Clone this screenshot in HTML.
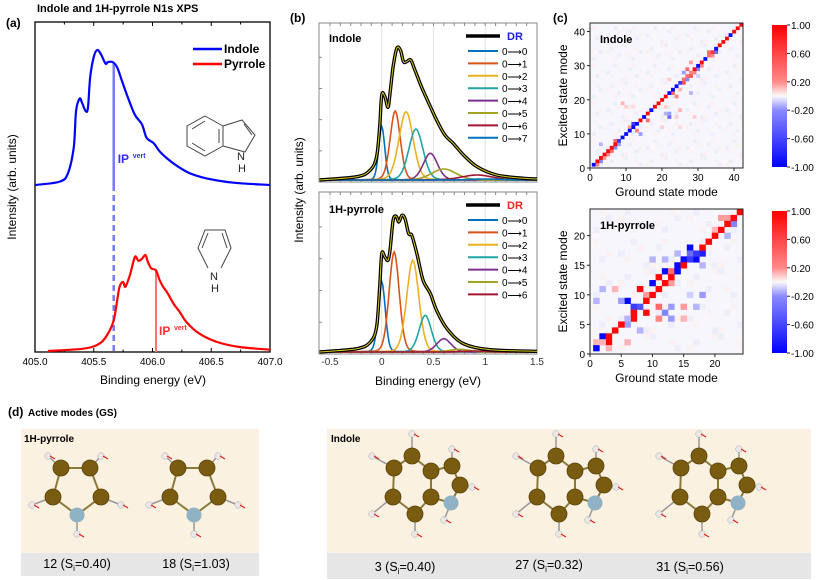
<!DOCTYPE html>
<html><head><meta charset="utf-8"><style>
body{margin:0;background:#fff;}
svg{display:block;font-family:"Liberation Sans",Arial,sans-serif;}
</style></head><body>
<svg id="fig" width="830" height="580" viewBox="0 0 830 580" xmlns="http://www.w3.org/2000/svg"></svg>
<script>
// ---------- DATA ----------
const indoleE=[405.00,405.21,405.28,405.33,405.35,405.38,405.40,405.43,405.45,405.47,405.50,405.53,405.56,405.60,405.62,405.66,405.70,405.74,405.79,405.85,405.91,405.95,406.01,406.06,406.12,406.21,406.32,406.46,406.69,407.0];
const indoleI=[0,0.025,0.086,0.28,0.55,0.64,0.61,0.55,0.57,0.80,0.95,1.0,0.97,0.90,0.91,0.91,0.87,0.77,0.65,0.52,0.45,0.35,0.31,0.25,0.20,0.14,0.086,0.049,0.017,0];
const pyrroleE=[405.11,405.41,405.55,405.62,405.67,405.70,405.72,405.75,405.77,405.81,405.85,405.88,405.91,405.94,405.96,405.99,406.03,406.06,406.09,406.13,406.18,406.23,406.29,406.40,406.55,406.74,407.0];
const pyrroleI=[0,0.024,0.077,0.18,0.32,0.53,0.67,0.72,0.67,0.80,0.98,0.94,0.96,1.0,0.93,0.86,0.84,0.74,0.67,0.60,0.49,0.41,0.30,0.18,0.094,0.042,0.014];
const ipIndole=405.67, ipPyrrole=406.03;
const aTicks=[405.0,405.5,406.0,406.5,407.0];
const drIndoleE=[-0.60,-0.24,-0.11,-0.05,-0.02,0.00,0.03,0.06,0.08,0.11,0.145,0.18,0.21,0.24,0.28,0.32,0.39,0.47,0.53,0.61,0.69,0.79,0.92,1.11,1.37,1.5];
const drIndoleI=[0,10,30,70,160,255,250,218,260,340,395,390,355,355,360,330,275,220,180,135,110,75,40,15,5,3];
const drPyrE=[-0.60,-0.24,-0.11,-0.05,-0.02,0.00,0.03,0.06,0.08,0.11,0.14,0.165,0.195,0.225,0.26,0.29,0.34,0.40,0.47,0.53,0.63,0.79,1.05,1.5];
const drPyrI=[0,10,30,75,195,295,285,275,305,395,407,390,410,400,355,350,295,215,175,125,70,25,7,2];
const compIndolePos=[0.0,0.13,0.235,0.33,0.47,0.60,0.92,1.0];
const compIndoleH=[160,207,205,153,80,33,15,3];
const compIndoleW=[0.03,0.05,0.07,0.07,0.07,0.12,0.15,0.15];
const compPyrPos=[0.0,0.12,0.30,0.42,0.60,0.75,0.9];
const compPyrH=[210,300,275,110,40,8,3];
const compPyrW=[0.035,0.05,0.06,0.06,0.07,0.1,0.12];
const compColors=["#0072BD","#D95319","#EDB120","#1FA5A5","#7E2F8E","#A3A322","#A2142F","#0072BD"];
const bTicks=[-0.5,0,0.5,1,1.5];
const indoleDiag=[-1,1,1,1,1,1,1,-0.8,-1,-1,-1,-1,-1,1,-1,1,-1,1,1,1,1,-1,-1,-1,-0.8,0.6,0.6,0.5,1,-1,1,-1,0.6,0.8,-1,1,1,1,-1,1,1,1];
const indoleOff=[[2,1,0.5],[3,2,-0.5],[4,3,0.4],[5,4,0.5],[6,5,0.6],[7,6,-0.5],[8,7,-0.4],[7,8,0.6],[12,13,-0.8],[11,12,0.4],[13,11,0.5],[14,10,-0.4],[16,14,0.6],[15,15,-0.4],[22,15,-0.6],[22,16,-0.4],[23,22,0.6],[24,21,0.5],[25,23,0.3],[26,25,0.7],[27,26,-0.5],[28,27,0.7],[29,28,0.5],[30,29,-0.5],[31,30,0.5],[27,29,0.6],[28,31,0.4],[33,34,0.6],[34,33,0.5],[35,34,-0.6],[21,16,-0.3],[25,17,0.3],[9,19,0.3],[28,22,-0.3],[3,7,-0.3],[26,28,-0.4],[21,18,0.2],[24,15,0.2],[29,15,0.2],[20,12,0.2],[25,12,0.15],[10,18,0.2],[12,18,0.15],[22,26,0.2],[30,27,-0.2]];
const pyrDiag=[-1,0.3,1,1,1,-0.3,1,-0.7,1,1,1,1,1,-1,1,-0.8,-0.8,1,1,1,1,1,1,1];
const pyrOff=[[1,2,0.3],[2,3,-1],[3,2,1],[3,1,0.3],[6,5,-0.4],[7,6,1],[6,9,-1],[5,9,-0.4],[7,8,-0.8],[9,7,1],[8,11,1],[9,10,0.4],[10,12,-1],[11,13,1],[12,14,-1],[13,14,0.6],[14,15,-1],[15,16,-1],[16,18,-1],[17,16,-1],[18,17,-0.9],[16,17,-0.6],[11,8,0.6],[11,6,0.5],[12,7,-0.5],[13,8,-0.4],[13,6,-0.4],[15,8,0.4],[15,6,0.3],[17,8,-0.3],[4,11,0.3],[2,11,-0.3],[1,9,-0.3],[6,2,0.3],[8,4,-0.3],[13,12,0.4],[10,16,-0.3],[12,16,-0.3],[14,17,-0.3],[18,15,-0.3],[18,10,-0.4],[16,10,-0.2],[22,20,-0.3],[23,22,-0.5],[21,23,0.4],[22,23,0.4],[20,21,0.3]];
const cbTicks=[1.0,0.6,0.2,-0.2,-0.6,-1.0];

// ---------- HELPERS ----------
const NS="http://www.w3.org/2000/svg";
const svg=document.getElementById('fig');
function el(tag,attrs,parent){const e=document.createElementNS(NS,tag);for(const k in attrs)e.setAttribute(k,attrs[k]);(parent||svg).appendChild(e);return e;}
function txt(x,y,s,attrs,parent){const t=el('text',Object.assign({x:x,y:y},attrs||{}),parent);t.textContent=s;return t;}
function smooth(pts){let d=`M${pts[0][0].toFixed(1)},${pts[0][1].toFixed(1)}`;for(let i=0;i<pts.length-1;i++){const p0=pts[Math.max(0,i-1)],p1=pts[i],p2=pts[i+1],p3=pts[Math.min(pts.length-1,i+2)];const c1=[p1[0]+(p2[0]-p0[0])/6,p1[1]+(p2[1]-p0[1])/6],c2=[p2[0]-(p3[0]-p1[0])/6,p2[1]-(p3[1]-p1[1])/6];d+=`C${c1[0].toFixed(1)},${c1[1].toFixed(1)} ${c2[0].toFixed(1)},${c2[1].toFixed(1)} ${p2[0].toFixed(1)},${p2[1].toFixed(1)}`;}return d;}
function col(v){v=Math.max(-1,Math.min(1,v));let r,g,b;if(v>=0){r=255;g=b=Math.round(255-(255-8)*v);}else{b=255;r=g=Math.round(255+(255-8)*v);}return `rgb(${r},${g},${b})`;}

// ---------- PANEL A ----------
const ga=el('g',{});
const aX0=35,aX1=270,aY0=22,aY1=352;
const axA=E=>aX0+(E-405)/2*(aX1-aX0);
txt(37,12,'Indole and 1H-pyrrole N1s XPS',{'font-size':'11','font-weight':'bold',},ga);
txt(6,27,'(a)',{'font-size':'12','font-weight':'bold',},ga);
el('rect',{x:aX0,y:aY0,width:aX1-aX0,height:aY1-aY0,fill:'none',stroke:'#000','stroke-width':'1.3',},ga);
aTicks.forEach(t=>{const x=axA(t);el('line',{x1:x,x2:x,y1:aY1,y2:aY1-4,stroke:'#000'},ga);el('line',{x1:x,x2:x,y1:aY0,y2:aY0+4,stroke:'#000'},ga);
 const m=axA(t+0.25);if(t<407){el('line',{x1:m,x2:m,y1:aY1,y2:aY1-2.5,stroke:'#000'},ga);el('line',{x1:m,x2:m,y1:aY0,y2:aY0+2.5,stroke:'#000'},ga);}
 const l=txt(x,365,t.toFixed(1),{'font-size':'10','text-anchor':'middle'},ga);});
txt(153,384,'Binding energy (eV)',{'font-size':'12','text-anchor':'middle',},ga);
txt(0,0,'Intensity (arb. units)',{'font-size':'12','text-anchor':'middle',transform:'translate(16,187) rotate(-90)',},ga);
const baseI=185,scaleI=135,baseP=351,scaleP=96;
const interp=(E,Es,Is)=>{for(let i=0;i<Es.length-1;i++)if(E>=Es[i]&&E<=Es[i+1])return Is[i]+(Is[i+1]-Is[i])*(E-Es[i])/(Es[i+1]-Es[i]);return 0;};
const yIpI=baseI-scaleI*interp(ipIndole,indoleE,indoleI);
el('line',{x1:axA(ipIndole),x2:axA(ipIndole),y1:yIpI,y2:baseI,stroke:'#7a7aff','stroke-width':'2.5',},ga);
el('line',{x1:axA(ipIndole),x2:axA(ipIndole),y1:baseI,y2:aY1,stroke:'#7a7aff','stroke-width':'2.5','stroke-dasharray':'6,4',},ga);
const yIpP=baseP-scaleP*interp(ipPyrrole,pyrroleE,pyrroleI);
el('line',{x1:axA(ipPyrrole),x2:axA(ipPyrrole),y1:yIpP,y2:aY1,stroke:'#ff7070','stroke-width':'2',},ga);
el('path',{d:smooth(indoleE.map((E,i)=>[axA(E),baseI-scaleI*indoleI[i]])),fill:'none',stroke:'#0000ff','stroke-width':'2.2',},ga);
el('path',{d:smooth(pyrroleE.map((E,i)=>[axA(E),baseP-scaleP*pyrroleI[i]])),fill:'none',stroke:'#ff0000','stroke-width':'2.2',},ga);
txt(axA(ipIndole)+4,163,'IP',{'font-size':'12','font-weight':'bold',fill:'#3030ff',},ga);
txt(axA(ipIndole)+19,158,'vert',{'font-size':'7','font-weight':'bold',fill:'#3030ff'},ga);
txt(axA(ipPyrrole)+3,335,'IP',{'font-size':'12','font-weight':'bold',fill:'#ff3030',},ga);
txt(axA(ipPyrrole)+18,330,'vert',{'font-size':'7','font-weight':'bold',fill:'#ff3030'},ga);
el('line',{x1:193,x2:222,y1:49,y2:49,stroke:'#0000ff','stroke-width':'2.5',},ga);
txt(224,53,'Indole',{'font-size':'12','font-weight':'bold',},ga);
el('line',{x1:193,x2:222,y1:64,y2:64,stroke:'#ff0000','stroke-width':'2.5',},ga);
txt(224,68,'Pyrrole',{'font-size':'12','font-weight':'bold',},ga);
const st=el('g',{stroke:'#444','stroke-width':'1',fill:'none',},ga);
const hx=[[205,116],[223,126],[223,146],[205,156],[187,146],[187,126]];
el('polygon',{points:hx.map(p=>p.join(',')).join(' ')},st);
el('polyline',{points:'223,126 242,120 255,135 245,152 223,146'},st);
el('line',{x1:192,y1:129,x2:205,y2:121},st);el('line',{x1:192,y1:143,x2:205,y2:151},st);el('line',{x1:219,y1:129,x2:219,y2:143},st);el('line',{x1:244,y1:124,x2:252,y2:135},st);
txt(237,160,'N',{'font-size':'11',fill:'#222',stroke:'none'},ga);txt(238,172,'H',{'font-size':'11',fill:'#222'},ga);
const sp=el('g',{stroke:'#444','stroke-width':'1',fill:'none',},ga);
el('polyline',{points:'208,268 198,248 205,230 225,230 231,248 221,268'},sp);
el('line',{x1:202,y1:248,x2:208,y2:233},sp);el('line',{x1:227,y1:248,x2:222,y2:233},sp);
txt(210,280,'N',{'font-size':'11',fill:'#222'},ga);txt(211,292,'H',{'font-size':'11',fill:'#222'},ga);

// ---------- PANEL B ----------
const gb=el('g',{});
const bX0=319,bX1=537;
const axB=E=>330+(E+0.5)*103.5;
txt(290,22,'(b)',{'font-size':'12','font-weight':'bold',},gb);
function drawB(y0,y1,name,drE,drI,pos,hh,ww,ncomp,drColor){
 const g=el('g',{},gb);
 bTicks.forEach(t=>{const x=axB(t);el('line',{x1:x,x2:x,y1:y0,y2:y1,stroke:'#e4e4e4','stroke-width':'1'},g);});
 el('rect',{x:bX0,y:y0,width:bX1-bX0,height:y1-y0,fill:'none',stroke:'#888','stroke-width':'1'},g);
 for(let t=-0.5;t<=1.5;t+=0.1){const x=axB(t);el('line',{x1:x,x2:x,y1:y0,y2:y0+3,stroke:'#888'},g);el('line',{x1:x,x2:x,y1:y1,y2:y1-3,stroke:'#888'},g);}
 for(let k=1;k<5;k++){const y=y1-k*(y1-y0)/5.1;el('line',{x1:bX0,x2:bX0+3,y1:y,y2:y,stroke:'#888'},g);}
 const base=y1-2;
 for(let c=0;c<ncomp;c++){const pts=[];for(let E=-0.6;E<=1.5001;E+=0.01){const u=(E-pos[c])/ww[c];const v=hh[c]/3*(0.85*Math.exp(-u*u/2)+0.15/(1+u*u));pts.push([axB(E),base-v]);}
  const p=el('path',{d:'M'+pts.map(q=>q[0].toFixed(1)+','+q[1].toFixed(1)).join('L'),fill:'none',stroke:compColors[c],'stroke-width':'1.6'},g);
  }
 const d=smooth(drE.map((E,i)=>[axB(E),base-drI[i]/3]));
 el('path',{d:d,fill:'none',stroke:'#000','stroke-width':'3.4',},g);
 el('path',{d:d,fill:'none',stroke:'#d8c820','stroke-width':'1',},g);
 el('line',{x1:466,x2:500,y1:y0+13,y2:y0+13,stroke:'#000','stroke-width':'3.4'},g);
 txt(507,y0+17,'DR',{'font-size':'11','font-weight':'bold',fill:drColor,},g);
 for(let c=0;c<ncomp;c++){const y=y0+28+c*12.4;el('line',{x1:468,x2:498,y1:y,y2:y,stroke:compColors[c],'stroke-width':'2'},g);
  const t=txt(502,y+4,'0\u27F6'+c,{'font-size':'10'},g);}
 return g;}
const gbt=drawB(23,182,'indole-dr-plot',drIndoleE,drIndoleI,compIndolePos,compIndoleH,compIndoleW,8,'#2020e0');
txt(329,42,'Indole',{'font-size':'11','font-weight':'bold',},gbt);
const gbb=drawB(192,354,'pyrrole-dr-plot',drPyrE,drPyrI,compPyrPos,compPyrH,compPyrW,7,'#ff2020');
txt(329,213,'1H-pyrrole',{'font-size':'11','font-weight':'bold',},gbb);
bTicks.forEach(t=>{const l=txt(axB(t),365,String(t),{'font-size':'10','text-anchor':'middle',fill:'#333'},gb);});
txt(428,385,'Binding energy (eV)',{'font-size':'12','text-anchor':'middle',},gb);
txt(0,0,'Intensity (arb. units)',{'font-size':'12','text-anchor':'middle',transform:'translate(303,190) rotate(-90)',},gb);

// ---------- PANEL C ----------
const gc=el('g',{});
txt(553,22,'(c)',{'font-size':'12','font-weight':'bold',},gc);
function heat(x0,y0,x1,y1,n,diag,off,ticks,name,title){
 const g=el('g',{},gc);
 el('rect',{x:x0,y:y0,width:x1-x0,height:y1-y0,fill:'#f6f6fc'},g);
 const cw=(x1-x0)/(n+0.5),ch=(y1-y0)/(n+0.5);
 const cx=k=>x0+(k-0.5)*cw, cy=k=>y1-(k+0.5)*ch;
 for(let i=1;i<=n;i++)for(let j=1;j<=n;j++){const h=(i*13+j*7+i*j)%11;if(h===0)el('rect',{x:cx(i),y:cy(j),width:cw+0.3,height:ch+0.3,fill:'#fcf1f1'},g);else if(h===5)el('rect',{x:cx(i),y:cy(j),width:cw+0.3,height:ch+0.3,fill:'#eeeefb'},g);}
 off.forEach(o=>{const r=el('rect',{x:cx(o[0]),y:cy(o[1]),width:cw+0.3,height:ch+0.3,fill:col(o[2])},g);});
 diag.forEach((v,i)=>{const r=el('rect',{x:cx(i+1),y:cy(i+1),width:cw+0.3,height:ch+0.3,fill:col(v)},g);});
 el('rect',{x:x0,y:y0,width:x1-x0,height:y1-y0,fill:'none',stroke:'#222','stroke-width':'1'},g);
 ticks.forEach(t=>{const x=x0+t*cw,y=y1-t*ch;el('line',{x1:x,x2:x,y1:y1,y2:y1+3,stroke:'#222'},g);el('line',{x1:x0,x2:x0-3,y1:y,y2:y,stroke:'#222'},g);
  const a=txt(x,y1+13,String(t),{'font-size':'10','text-anchor':'middle'},g);
  const b=txt(x0-5,y+4,String(t),{'font-size':'10','text-anchor':'end'},g);});
 txt(x0+10,y0+20,title,{'font-size':'11','font-weight':'bold'},g);
 txt((x0+x1)/2,y1+28,'Ground state mode',{'font-size':'12','text-anchor':'middle',},g);
 txt(0,0,'Excited state mode',{'font-size':'12','text-anchor':'middle',transform:`translate(${x0-23},${(y0+y1)/2}) rotate(-90)`,},g);
 const gid='cb'+name;const lg=el('linearGradient',{id:gid,x1:0,y1:0,x2:0,y2:1},g);
 [[0,'#ff0000'],[0.4,'#ff8a8a'],[0.5,'#fafafa'],[0.6,'#8a8aff'],[1,'#0000ff']].forEach(s=>el('stop',{offset:s[0],'stop-color':s[1]},lg));
 const cy0=y0+2,cy1=y1-1;
 el('rect',{x:772,y:cy0,width:15,height:cy1-cy0,fill:`url(#${gid})`,},g);
 cbTicks.forEach(t=>{const y=cy0+(1-t)/2*(cy1-cy0);el('line',{x1:787,x2:790,y1:y,y2:y,stroke:'#222'},g);const l=txt(791,y+4,t.toFixed(2),{'font-size':'10'},g);});
}
heat(590,23,743,168,42,indoleDiag,indoleOff,[0,10,20,30,40],'indole-heatmap','Indole');
heat(590,209,743,354,24,pyrDiag,pyrOff,[0,5,10,15,20],'pyrrole-heatmap','1H-pyrrole');

// ---------- PANEL D ----------
const gd=el('g',{});
txt(8,416,'(d)',{'font-size':'12','font-weight':'bold',},gd);
txt(28,416,'Active modes (GS)',{'font-size':'10','font-weight':'bold',},gd);
el('rect',{x:21,y:429,width:238,height:124,fill:'#fbf1e1',},gd);
el('rect',{x:21,y:553,width:238,height:23,fill:'#e6e6e6',},gd);
el('rect',{x:327,y:429,width:484,height:124,fill:'#fbf1e1',},gd);
el('rect',{x:327,y:553,width:484,height:26,fill:'#e6e6e6',},gd);
txt(24,442,'1H-pyrrole',{'font-size':'10','font-weight':'bold'},gd);
txt(331,442,'Indole',{'font-size':'10','font-weight':'bold'},gd);
function lab(x,y,n,s,name){const t=el('text',{x:x,y:y,'font-size':'12.5','text-anchor':'middle',},gd);t.innerHTML=`${n} (S<tspan font-size="8" dy="3">i</tspan><tspan dy="-3">=${s})</tspan>`;}
lab(77,568,'12','0.40','mode-12-label');lab(196,568,'18','1.03','mode-18-label');
lab(405,571,'3','0.40','mode-3-label');lab(549,569,'27','0.32','mode-27-label');lab(690,571,'31','0.56','mode-31-label');
function mol(dx,C,N,H,bonds,name){const g=el('g',{transform:`translate(${dx},0)`,},gd);
 const all=C.concat([N]);
 bonds.forEach(b=>{const p=all[b[0]],q=all[b[1]];el('line',{x1:p[0],y1:p[1],x2:q[0],y2:q[1],stroke:'#8a7a3a','stroke-width':'2'},g);});
 H.forEach(h=>{let best=all[0],bd=1e9;all.forEach(a=>{const d=(a[0]-h[0])**2+(a[1]-h[1])**2;if(d<bd){bd=d;best=a;}});el('line',{x1:h[0],y1:h[1],x2:best[0],y2:best[1],stroke:'#999','stroke-width':'1.5'},g);});
 H.forEach(h=>{el('circle',{cx:h[0],cy:h[1],r:3.3,fill:'#e8e8e8',stroke:'#aaa','stroke-width':'0.5'},g);el('line',{x1:h[0]+2,y1:h[1],x2:h[0]+7,y2:h[1]+3,stroke:'#e02020','stroke-width':'1.2'},g);});
 C.forEach(c=>el('circle',{cx:c[0],cy:c[1],r:8,fill:'#7a5c10',stroke:'#5a420a','stroke-width':'0.8'},g));
 el('circle',{cx:N[0],cy:N[1],r:7.5,fill:'#8fb3c4'},g);}
const pyC=[[61,468],[90,468],[53,497],[101,497]],pyN=[77,515],pyH=[[48,456],[101,456],[32,505],[121,505],[77,534]];
const pyB=[[0,1],[0,2],[1,3],[2,4],[3,4]];
mol(0,pyC,pyN,pyH,pyB,'pyrrole-mode-12');mol(117,pyC,pyN,pyH,pyB,'pyrrole-mode-18');
const inC=[[394,468],[412,456],[431,471],[393,497],[415,514],[431,497],[452,466],[460,485]],inN=[451,503],inH=[[372,456],[412,434],[452,449],[472,487],[372,514],[415,534],[444,520]];
const inB=[[0,1],[1,2],[2,5],[5,4],[4,3],[3,0],[2,6],[6,7],[7,8],[5,8]];
mol(0,inC,inN,inH,inB,'indole-mode-3');mol(144,inC,inN,inH,inB,'indole-mode-27');mol(287,inC,inN,inH,inB,'indole-mode-31');
</script>
</body></html>
